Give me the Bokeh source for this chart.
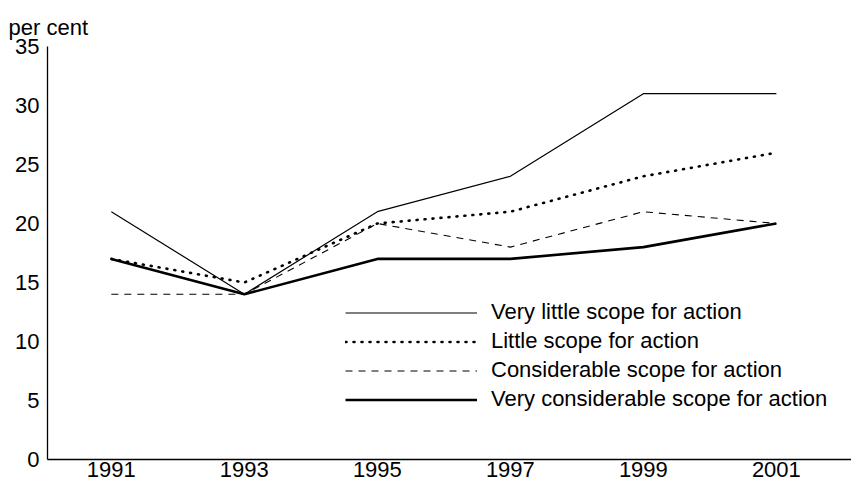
from bokeh.plotting import figure
from bokeh.models import Legend, LegendItem, Range1d, FixedTicker, Title
from bokeh.embed import file_html
from bokeh.resources import INLINE

years = [1991, 1993, 1995, 1997, 1999, 2001]
very_little = [21, 14, 21, 24, 31, 31]
little = [17, 15, 20, 21, 24, 26]
considerable = [14, 14, 20, 18, 21, 20]
very_considerable = [17, 14, 17, 17, 18, 20]
labels = ["Very little scope for action", "Little scope for action",
          "Considerable scope for action", "Very considerable scope for action"]
y_ticks = [0, 5, 10, 15, 20, 25, 30, 35]
unit_label = "per cent"

FONT = "Liberation Sans"
FS = "22px"

p = figure(width=851, height=488, output_backend="svg", toolbar_location=None,
           x_range=Range1d(1990.04, 2002.13), y_range=Range1d(0, 35),
           min_border_left=47, min_border_right=0, min_border_top=46, min_border_bottom=29)
p.outline_line_color = None
p.grid.visible = False
p.background_fill_color = "white"
p.border_fill_color = "white"

for ax in (p.xaxis[0], p.yaxis[0]):
    ax.major_tick_in = 0
    ax.major_tick_out = 0
    ax.minor_tick_in = 0
    ax.minor_tick_out = 0
    ax.axis_line_color = "black"
    ax.axis_line_width = 1.3
    ax.major_label_text_font = FONT
    ax.major_label_text_font_size = FS
    ax.major_label_text_color = "black"

p.xaxis.ticker = FixedTicker(ticks=years)
p.yaxis.ticker = FixedTicker(ticks=y_ticks)
p.xaxis.major_label_standoff = 2
p.yaxis.major_label_standoff = 8

r1 = p.line(years, very_little, line_color="black", line_width=1.2)
r2 = p.line(years, little, line_color="black", line_width=2.6, line_dash="1 7", line_cap="round")
r3 = p.line(years, considerable, line_color="black", line_width=1.1, line_dash="7 6")
r4 = p.line(years, very_considerable, line_color="black", line_width=2.6)

legend = Legend(items=[LegendItem(label=labels[0], renderers=[r1]),
                       LegendItem(label=labels[1], renderers=[r2]),
                       LegendItem(label=labels[2], renderers=[r3]),
                       LegendItem(label=labels[3], renderers=[r4])],
                location=(298, 47), glyph_width=132, glyph_height=25, label_height=25,
                label_standoff=14, spacing=3, padding=0, margin=0,
                border_line_color=None, background_fill_alpha=0,
                label_text_font=FONT, label_text_font_size=FS, label_text_color="black")
p.add_layout(legend, "center")

p.add_layout(Title(text=unit_label, align="left", offset=-39, text_font=FONT,
                   text_font_size=FS, text_font_style="normal", text_color="black",
                   vertical_align="top", standoff=10), "above")

open("out.html", "w").write(file_html(p, INLINE))
